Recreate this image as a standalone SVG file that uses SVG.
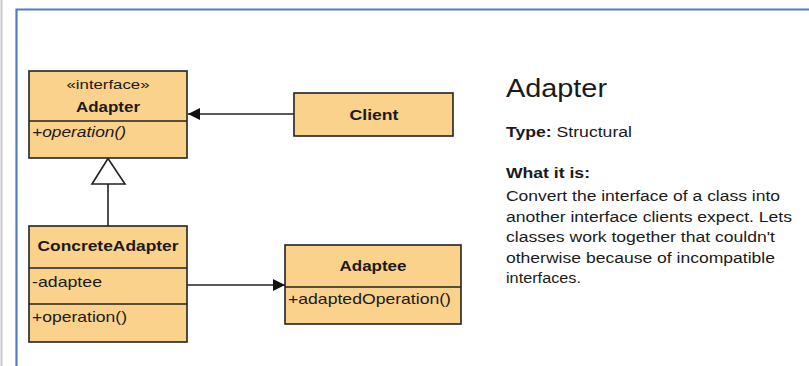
<svg xmlns="http://www.w3.org/2000/svg" width="809" height="366" viewBox="0 0 809 366">
<defs>
<style>
.box{fill:#FAD28C;stroke:#222;stroke-width:1.6}
.div{stroke:#222;stroke-width:1.6}
.conn{stroke:#222;stroke-width:1.6;fill:none}
.t{font-family:"Liberation Sans",Arial,sans-serif;fill:#1a1a1a}
.b{font-weight:bold}
</style>
<marker id="arr" viewBox="0 0 12 12" refX="12" refY="6" markerWidth="12" markerHeight="12" markerUnits="userSpaceOnUse" orient="auto">
<path d="M0,0 L12,6 L0,12 Z" fill="#111"/>
</marker>
</defs>
<rect width="809" height="366" fill="#fff"/>
<line x1="1.5" y1="0" x2="1.5" y2="366" stroke="#c8c8c8" stroke-width="2"/>
<path d="M16.5,366 V9.5 H809" fill="none" stroke="#4F7FC0" stroke-width="2.2"/>

<g id="connectors">
<line class="conn" x1="294" y1="114" x2="188" y2="114" marker-end="url(#arr)"/>
<line class="conn" x1="108" y1="226" x2="108" y2="184"/>
<polygon points="108,158.5 92,184 125,184" fill="#fff" stroke="#222" stroke-width="1.6"/>
<line class="conn" x1="187" y1="285" x2="285" y2="285" marker-end="url(#arr)"/>
</g>

<g id="adapter">
<rect class="box" x="29" y="71" width="158" height="87"/>
<line class="div" x1="29" y1="121" x2="187" y2="121"/>
<text class="t" x="108" y="89" font-size="13" text-anchor="middle" textLength="83" lengthAdjust="spacingAndGlyphs">«interface»</text>
<text class="t b" x="108" y="112" font-size="15" text-anchor="middle" textLength="64" lengthAdjust="spacingAndGlyphs">Adapter</text>
<text class="t" x="32" y="137" font-size="15" font-style="italic" textLength="94" lengthAdjust="spacingAndGlyphs">+operation()</text>
</g>

<g id="client">
<rect class="box" x="294" y="93" width="159" height="43"/>
<text class="t b" x="374" y="120" font-size="15" text-anchor="middle" textLength="49" lengthAdjust="spacingAndGlyphs">Client</text>
</g>

<g id="concreteadapter">
<rect class="box" x="29" y="226" width="158" height="116"/>
<line class="div" x1="29" y1="268" x2="187" y2="268"/>
<line class="div" x1="29" y1="304" x2="187" y2="304"/>
<text class="t b" x="108" y="251" font-size="15" text-anchor="middle" textLength="141" lengthAdjust="spacingAndGlyphs">ConcreteAdapter</text>
<text class="t" x="32" y="287" font-size="15" textLength="70" lengthAdjust="spacingAndGlyphs">-adaptee</text>
<text class="t" x="32" y="322" font-size="15" textLength="95" lengthAdjust="spacingAndGlyphs">+operation()</text>
</g>

<g id="adaptee">
<rect class="box" x="285" y="245" width="176" height="79"/>
<line class="div" x1="285" y1="287" x2="461" y2="287"/>
<text class="t b" x="373" y="271" font-size="15" text-anchor="middle" textLength="67" lengthAdjust="spacingAndGlyphs">Adaptee</text>
<text class="t" x="288" y="304" font-size="15" textLength="163" lengthAdjust="spacingAndGlyphs">+adaptedOperation()</text>
</g>

<g id="description">
<text class="t" x="506" y="97" font-size="26" textLength="101" lengthAdjust="spacingAndGlyphs">Adapter</text>
<text class="t" x="506" y="137" font-size="14" textLength="126" lengthAdjust="spacingAndGlyphs"><tspan class="b">Type:</tspan> Structural</text>
<text class="t b" x="506" y="178" font-size="14" textLength="84" lengthAdjust="spacingAndGlyphs">What it is:</text>
<text class="t" x="506" y="201" font-size="14" textLength="274" lengthAdjust="spacingAndGlyphs">Convert the interface of a class into</text>
<text class="t" x="506" y="222" font-size="14" textLength="286" lengthAdjust="spacingAndGlyphs">another interface clients expect. Lets</text>
<text class="t" x="506" y="242" font-size="14" textLength="269" lengthAdjust="spacingAndGlyphs">classes work together that couldn't</text>
<text class="t" x="506" y="263" font-size="14" textLength="269" lengthAdjust="spacingAndGlyphs">otherwise because of incompatible</text>
<text class="t" x="506" y="283" font-size="14" textLength="75" lengthAdjust="spacingAndGlyphs">interfaces.</text>
</g>
</svg>
